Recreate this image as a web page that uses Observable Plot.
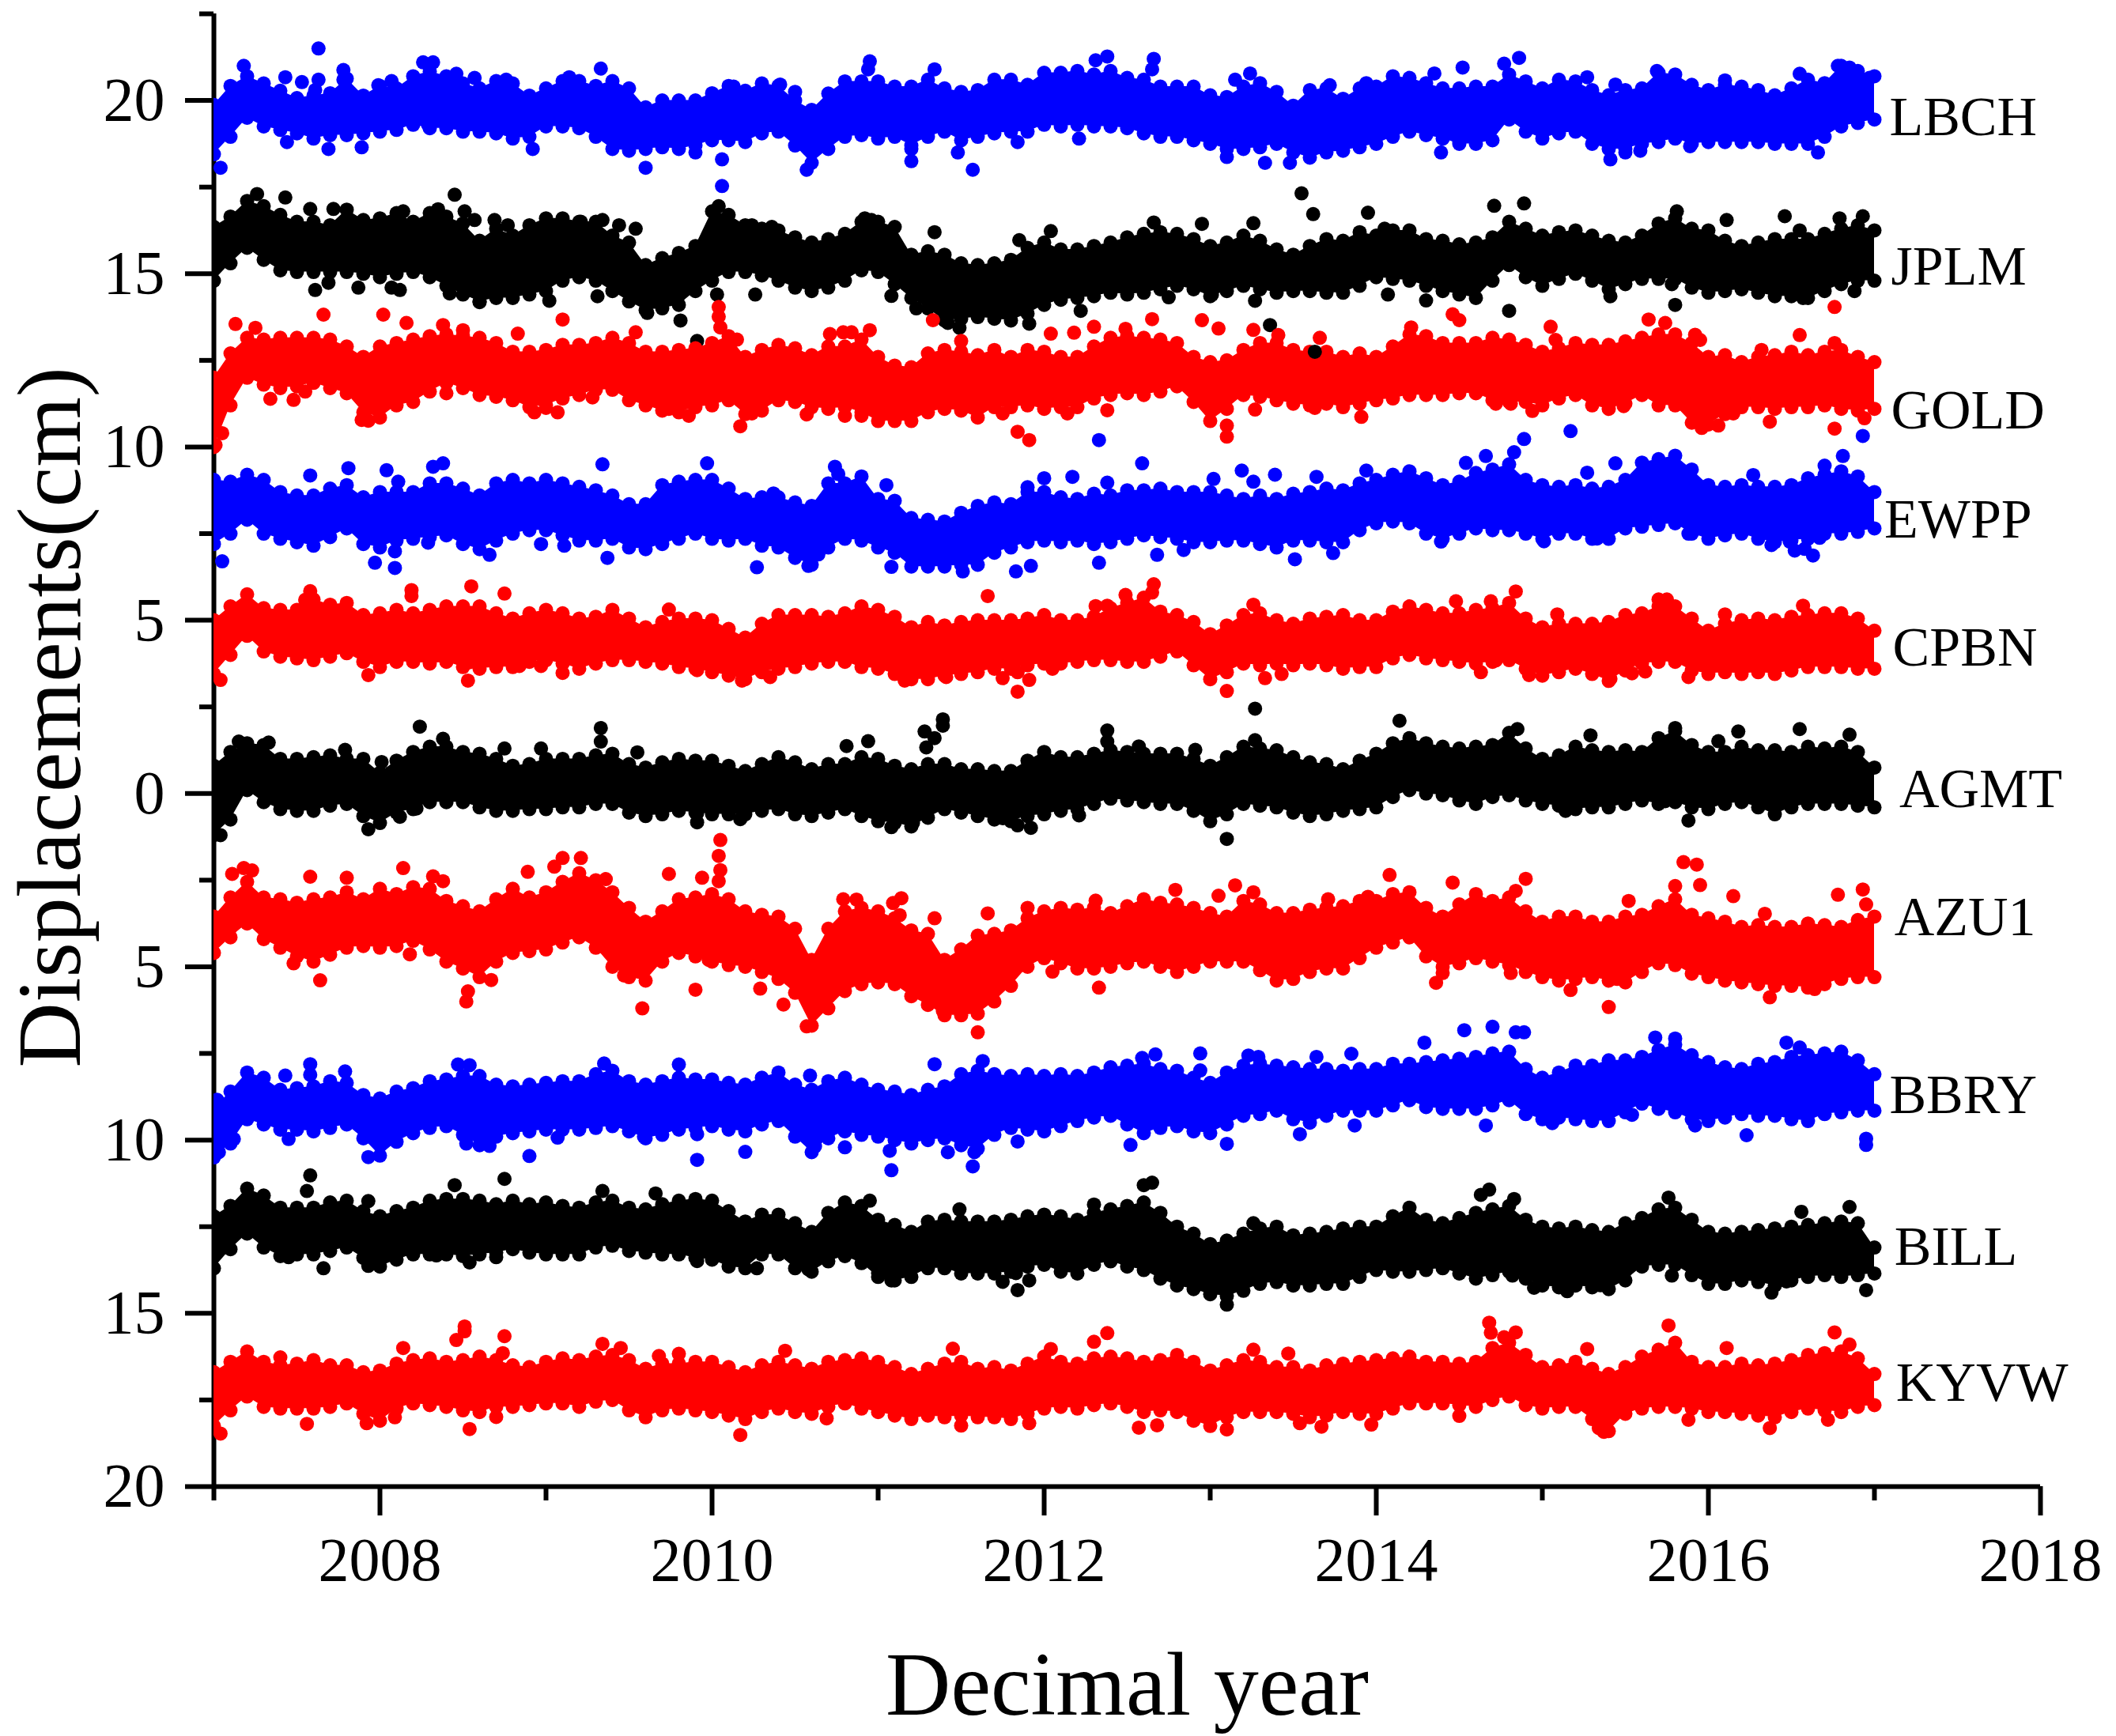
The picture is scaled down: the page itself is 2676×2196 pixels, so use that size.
<!DOCTYPE html>
<html>
<head>
<meta charset="utf-8">
<script src="https://cdn.jsdelivr.net/npm/d3@7"></script>
<script src="https://cdn.jsdelivr.net/npm/@observablehq/plot@0.6"></script>
<style>html,body{margin:0;padding:0;background:#fff}svg{display:block}</style>
</head>
<body>
<div id="chart"></div>
<script>
const years=[
2007,2007.1,2007.2,2007.3,2007.4,2007.5,2007.6,2007.7,2007.8,2007.9,
2008,2008.1,2008.2,2008.3,2008.4,2008.5,2008.6,2008.7,2008.8,2008.9,
2009,2009.1,2009.2,2009.3,2009.4,2009.5,2009.6,2009.7,2009.8,2009.9,
2010,2010.1,2010.2,2010.3,2010.4,2010.5,2010.6,2010.7,2010.8,2010.9,
2011,2011.1,2011.2,2011.3,2011.4,2011.5,2011.6,2011.7,2011.8,2011.9,
2012,2012.1,2012.2,2012.3,2012.4,2012.5,2012.6,2012.7,2012.8,2012.9,
2013,2013.1,2013.2,2013.3,2013.4,2013.5,2013.6,2013.7,2013.8,2013.9,
2014,2014.1,2014.2,2014.3,2014.4,2014.5,2014.6,2014.7,2014.8,2014.9,
2015,2015.1,2015.2,2015.3,2015.4,2015.5,2015.6,2015.7,2015.8,2015.9,
2016,2016.1,2016.2,2016.3,2016.4,2016.5,2016.6,2016.7,2016.8,2016.9,
2017];

const lbchHi=[
19.87,20.42,20.7,20.49,20.28,20.07,20.14,20.21,20.63,20.14,
20.42,20.35,20.7,20.84,20.7,20.49,20.35,20.56,20.49,20.14,
20.35,20.56,20.56,20.42,20.56,20.35,19.8,20,20,20,
20.21,20.42,20.28,20.49,20.42,20,19.73,20.2,20.55,20.55,
20.55,20.4,20.4,20.6,20.35,20.25,20.3,20.6,20.6,20.45,
20.8,20.8,20.85,20.75,20.85,20.65,20.6,20.4,20.4,20.4,
20.15,20.1,20.4,20.5,20.25,19.85,20.3,20.35,20.05,20.35,
20.4,20.7,20.65,20.5,20.35,20.35,20.4,20.4,20.75,20.55,
20.35,20.6,20.55,20.3,20.15,20.3,20.35,20.8,20.75,20.45,
20.3,20.45,20.4,20.3,20.15,20.35,20.6,20.5,21,20.85,
20.7];
const lbchLo=[
18.45,18.95,19.5,19.25,19.15,19.05,18.9,19,19,19.05,
19.1,19.15,19.3,19.2,19.2,19.1,19.1,19.05,18.9,18.95,
19.25,19.25,19.2,18.95,18.6,18.55,18.6,18.65,18.6,18.7,
18.85,18.85,18.8,19.05,19.1,18.7,18.2,18.6,18.95,19,
18.9,18.95,18.7,18.95,19.1,18.85,18.95,19.05,19.1,19.1,
19.3,19.25,19.3,19.25,19.25,19.2,19.05,18.95,18.95,18.85,
18.75,18.6,18.6,18.65,18.75,18.5,18.35,18.5,18.55,18.65,
18.75,18.95,19.1,19,18.9,18.75,18.75,18.85,19.45,19.1,
18.9,19.05,19.1,18.75,18.6,18.6,18.75,18.8,18.9,18.75,
18.8,18.8,18.8,18.8,18.75,18.75,18.75,18.95,19.25,19.35,
19.45];
const lbchOut=[[2007.63,21.5],[2007.18,21],[2007.43,20.67],[2007.53,20.53],[2007.63,20.6],[2007.61,20.3],[2007.78,20.88],[2007.78,20.6],[2007.99,20.44],[2008.07,20.56],[2008.26,21.1],[2008.32,21.1],[2008.46,20.77],[2008.57,20.65],[2008.76,20.6],[2009.14,20.67],[2009.33,20.92],[2010.13,20.4],[2010.41,20.46],[2010.5,20.25],[2007.04,18.06],[2007.69,18.6],[2007.89,18.65],[2007.44,18.8],[2008.29,19.3],[2008.92,18.6],[2009.6,18.06],[2010.57,18],[2010.06,18.3],[2010.06,17.53],[2009.9,18.5],[2010.95,21.13],[2010.94,20.9],[2011.34,20.9],[2012.31,21.16],[2012.38,21.27],[2012.66,21.2],[2012.65,20.9],[2013.15,20.6],[2013.24,20.78],[2013.72,20.44],[2013.94,20.5],[2011.2,18.25],[2011.2,18.6],[2011.57,18],[2011.48,18.5],[2011.84,18.8],[2012.21,18.9],[2013.33,18.2],[2013.48,18.2],[2013.1,18.37],[2014.86,21.23],[2014.77,21.06],[2014.35,20.78],[2014.52,20.95],[2015.27,20.67],[2015.44,20.46],[2015.69,20.85],[2016.1,20.58],[2016.55,20.77],[2016.78,21],[2016.85,20.95],[2016.97,20.65],[2014.39,18.5],[2014.5,18.8],[2015.41,18.3],[2015.5,18.5],[2015.59,18.55],[2015.89,18.68],[2016.66,18.5]];

const jplmHi=[
16.35,16.65,17.1,16.95,16.7,16.5,16.5,16.4,16.85,16.55,
16.6,16.75,16.5,16.75,16.65,16.45,15.95,16.3,16.1,16.4,
16.6,16.6,16.5,16.5,16.1,15.9,15.25,15.45,15.6,15.8,
16.8,16.7,16.4,16.3,16.25,16.05,15.9,16,16.15,16.5,
16.5,16.35,15.55,15.65,15.55,15.3,15.25,15.3,15.4,15.75,
15.9,15.7,15.7,15.8,15.9,16.05,16.15,16.2,16.15,16,
15.8,15.9,16.1,15.95,15.7,15.55,15.8,16,15.95,16.2,
16.1,16.25,16.25,16,15.95,15.85,15.9,16.05,16.5,16.3,
16.1,16.2,16.25,16.1,15.95,15.9,16.1,16.45,16.6,16.3,
16.25,15.95,15.8,15.9,16,16,16,16.15,16.3,16.4,
16.25];
const jplmLo=[
14.8,15.3,15.75,15.4,15.1,15.05,15.05,15.05,15.05,15,
14.9,15,15.05,14.9,14.65,14.4,14.2,14.3,14.3,14.4,
14.5,14.8,14.9,14.8,14.5,14.2,13.95,14,14.1,14.5,
14.8,15.05,15.05,14.95,14.8,14.6,14.5,14.6,14.8,15.1,
15.05,14.7,14.3,14,13.65,13.7,13.75,13.7,13.65,13.85,
14.1,14.25,14.3,14.35,14.45,14.4,14.45,14.55,14.65,14.55,
14.35,14.5,14.65,14.55,14.45,14.5,14.5,14.45,14.45,14.65,
14.9,14.85,14.8,14.65,14.5,14.4,14.3,14.8,15.25,14.9,
14.65,14.85,15,14.8,14.55,14.7,14.85,14.85,14.85,14.6,
14.45,14.5,14.55,14.45,14.35,14.35,14.3,14.5,14.7,14.8,
14.8];
const jplmOut=[[2007.26,17.3],[2007.43,17.2],[2007.58,16.87],[2007.72,16.87],[2007.61,14.53],[2007.69,14.74],[2008.07,14.6],[2008.12,14.53],[2007.87,14.6],[2008.14,16.8],[2008.45,17.28],[2008.35,16.86],[2008.51,16.8],[2008.57,16.55],[2008.69,16.55],[2008.77,16.4],[2008.42,14.43],[2008.6,14.18],[2009.02,14.22],[2009.21,16.5],[2009.34,16.55],[2009.31,14.35],[2009.44,16.4],[2009.54,16.3],[2009.61,13.87],[2009.81,13.65],[2009.91,13.06],[2010.03,14.4],[2010.04,16.95],[2010.26,14.4],[2010.24,16.4],[2010.36,16.35],[2010.92,16.6],[2010.96,16.55],[2011.08,14.36],[2011.23,14],[2011.42,13.58],[2011.49,13.44],[2011.34,16.2],[2012.04,16.23],[2011.85,15.97],[2011.91,13.56],[2012.22,13.93],[2012.66,16.48],[2012.95,16.44],[2012.75,14.32],[2013.01,14.39],[2013.26,16.46],[2013.27,14.22],[2013.36,13.52],[2013.55,17.32],[2013.62,16.72],[2013.95,16.76],[2014.05,16.3],[2014.07,14.4],[2014.71,16.96],[2014.89,17.03],[2014.3,14.23],[2014.8,13.93],[2015.41,14.35],[2015.78,14.7],[2015.8,14.1],[2015.81,16.8],[2016.11,16.55],[2016.46,16.66],[2016.55,16.25],[2016.93,16.66],[2016.79,16.6],[2016.88,14.5],[2016.57,14.3]];
const jplmLate=[[2013.63,12.75]];

const goldHi=[
12,12.7,13.15,13.1,13.15,13.15,13.15,13.1,12.9,12.6,
12.9,13,13.1,13.2,13.25,13.2,13.15,13,12.75,12.75,
12.8,12.95,12.95,13,13.15,13,12.75,12.75,12.8,12.85,
13,13.2,12.6,12.8,12.95,12.85,12.65,12.9,12.9,13.1,
12.6,12.35,12.3,12.7,12.8,12.75,12.65,12.8,12.6,12.8,
12.75,12.6,12.6,12.9,13.15,13.2,13.15,13.1,13,12.6,
12.45,12.5,12.8,13,13,12.8,12.75,12.75,12.6,12.7,
12.6,12.9,13.25,13.2,13,13,13,13.15,13.1,12.95,
12.75,12.85,13,12.95,12.95,13.05,13.15,13.25,13.25,13,
12.6,12.65,12.45,12.6,12.65,12.75,12.65,12.75,12.8,12.6,
12.45];
const goldLo=[
10,11.2,12,11.8,11.7,11.75,11.85,11.7,11.55,11,
10.85,11.2,11.3,11.6,11.85,11.7,11.5,11.45,11.35,11.15,
11.2,11.4,11.5,11.65,11.65,11.35,11.2,11.05,11,11.15,
11.2,11.35,10.95,11.05,11.35,11.3,11.15,11.1,11.15,11,
10.75,10.75,10.75,11,11.1,11.05,10.85,11.15,11.15,11.2,
11.1,11.15,11.15,11.4,11.5,11.55,11.5,11.6,11.75,11.3,
10.75,11.1,11.5,11.45,11.35,11.25,11.2,11.25,11.15,11.25,
11.35,11.4,11.5,11.5,11.5,11.55,11.55,11.35,11.3,11.3,
11.2,11.4,11.5,11.2,11.1,11.25,11.5,11.2,11.2,10.7,
10.65,10.95,11.15,11.15,11.1,11.15,11.15,11.2,11.1,11.05,
11.1];
const goldOut=[[2007.13,13.55],[2007.25,13.44],[2007.66,13.82],[2008.02,13.82],[2008.16,13.58],[2008.38,13.52],[2008.5,13.37],[2008.83,13.27],[2009.1,13.68],[2009.54,13.31],[2010.04,14.04],[2010.04,13.76],[2010.05,13.45],[2010.15,13.1],[2007.34,11.39],[2007.48,11.36],[2007.55,11.6],[2008.4,11.55],[2007.89,10.78],[2007.93,10.76],[2008.93,11],[2009,11.13],[2009.07,11],[2009.28,11.43],[2009.74,11.1],[2009.86,10.9],[2010.17,10.6],[2010.24,10.97],[2010.57,10.94],[2007.01,10.06],[2007.05,10.4],[2010.71,13.26],[2010.79,13.31],[2010.84,13.31],[2010.95,13.37],[2011.33,13.66],[2011.5,13.06],[2012.04,13.27],[2012.18,13.3],[2012.3,13.47],[2012.49,13.41],[2012.65,13.69],[2012.95,13.66],[2013.05,13.42],[2013.26,13.38],[2013.66,13.15],[2013.41,13.23],[2010.8,10.9],[2010.9,10.9],[2011.84,10.44],[2011.91,10.2],[2011.75,10.97],[2012.14,10.97],[2012.38,11.06],[2013.1,10.3],[2013.1,10.62],[2013.27,11.08],[2013.63,11.13],[2013.91,10.87],[2014.21,13.45],[2014.46,13.83],[2014.5,13.66],[2015.05,13.47],[2015.08,13.09],[2015.64,13.68],[2015.74,13.58],[2015.92,13.24],[2015.95,13.09],[2016.32,12.8],[2016.55,13.23],[2016.76,14.04],[2016.76,13],[2014.72,11.25],[2014.81,11.25],[2014.94,11.04],[2015.49,11.18],[2015.96,10.55],[2016.06,10.62],[2016.15,10.97],[2016.37,10.73],[2016.76,10.53],[2016.94,10.83]];

const ewppHi=[
9.05,9,9.2,9.05,8.7,8.6,8.6,8.8,8.9,8.55,
8.7,8.7,8.7,8.95,8.95,8.8,8.6,8.95,9.05,8.95,
9.05,8.95,8.85,8.75,8.6,8.35,8.35,8.9,9,9.05,
9.05,8.8,8.5,8.55,8.55,8.4,8.3,8.95,8.95,9.15,
8.5,8.45,7.95,7.9,7.85,8.1,8.3,8.4,8.35,8.7,
8.7,8.55,8.5,8.65,8.6,8.75,8.75,8.8,8.7,8.7,
8.7,8.6,8.5,8.6,8.5,8.65,8.7,8.8,8.75,8.95,
9.05,9.2,9.3,9.1,8.9,9,9.25,9.35,9.5,9.05,
8.9,8.85,8.9,8.8,8.85,9.05,9.55,9.65,9.75,9.35,
8.9,8.85,8.9,8.85,8.85,8.9,9.1,9.2,9.3,9.15,
8.7];
const ewppLo=[
7.2,7.5,7.9,7.5,7.35,7.25,7.15,7.4,7.65,7.2,
7.1,7.3,7.35,7.4,7.45,7.2,7.05,7.3,7.5,7.6,
7.6,7.45,7.3,7.3,7.35,7.1,7.05,7.2,7.35,7.5,
7.35,7.3,7.35,7.15,7.1,6.8,6.6,7.1,7.35,7.3,
7.1,6.95,6.55,6.55,6.55,6.6,6.6,6.95,7.1,7.25,
7.3,7.25,7.3,7.2,7.25,7.35,7.45,7.4,7.35,7.25,
7.25,7.3,7.3,7.2,7.1,7.3,7.3,7.25,7.25,7.6,
7.8,7.85,7.8,7.5,7.35,7.5,7.65,7.6,7.6,7.5,
7.35,7.5,7.5,7.35,7.35,7.65,7.7,7.75,7.8,7.5,
7.35,7.45,7.5,7.35,7.25,7.3,7.35,7.5,7.5,7.55,
7.65];
const ewppOut=[[2007.05,6.7],[2007.81,9.39],[2007.58,9.18],[2008.04,9.33],[2008.11,9],[2008.32,9.43],[2008.38,9.53],[2009.34,9.5],[2009.97,9.53],[2007.97,6.66],[2008.09,6.99],[2008.09,6.51],[2008.29,7.24],[2008.66,6.89],[2008.97,7.2],[2009.11,7.15],[2009.37,6.8],[2010.27,6.53],[2010.58,6.57],[2010.37,8.66],[2010.74,9.43],[2010.76,9.22],[2011.05,8.9],[2011.9,8.84],[2012,9.1],[2012.17,9.14],[2012.38,8.97],[2012.59,9.53],[2013.02,9.08],[2013.19,9.32],[2013.26,9],[2013.39,9.2],[2013.64,9.14],[2013.94,9.32],[2011.08,6.54],[2011.51,6.41],[2011.83,6.41],[2011.92,6.57],[2012.33,6.66],[2012.68,6.89],[2012.84,7.03],[2013.51,6.76],[2013.74,6.94],[2010.64,6.9],[2014.89,10.23],[2014.83,9.85],[2014.54,9.54],[2014.66,9.74],[2015.27,9.26],[2015.44,9.53],[2016.27,9.19],[2016.81,9.74],[2016.7,9.46],[2014.39,7.27],[2015.01,7.28],[2015.33,7.36],[2015.88,7.5],[2016.38,7.17],[2016.52,7.01],[2016.58,7.06],[2016.63,6.87],[2016.67,7.38],[2016.49,7.27],[2012.33,10.2],[2015.17,10.46],[2016.93,10.32]];

const cpbnHi=[
5,5.4,5.75,5.35,5.3,5.3,5.6,5.45,5.5,5.15,
5.2,5.3,5.2,5.3,5.4,5.4,5.4,5.2,5.05,5.2,
5.3,5.2,5.05,5.1,5.3,5.05,4.8,4.95,5.05,5.05,
5,4.75,4.5,4.9,5.15,5.15,5.15,5.1,5.2,5.4,
5.3,5.1,4.8,4.95,4.85,4.95,5,5,5,5.05,
5.15,5,5,5.1,5.35,5.5,5.65,5.25,5.15,4.95,
4.6,4.85,5.15,5.2,5,4.9,5.05,5.1,5.15,5,
5,5.25,5.4,5.3,5.2,5.2,5.3,5.35,5.5,5.05,
4.8,4.9,4.9,4.9,4.95,5.15,5.2,5.4,5.4,5.05,
4.7,4.9,5,5.05,5,5.1,5.15,5.2,5.2,5.05,
4.7];
const cpbnLo=[
3.45,4,4.55,4.1,3.95,3.9,3.85,3.95,4.05,3.8,
3.65,3.8,3.8,3.75,3.8,3.65,3.6,3.65,3.65,3.8,
3.85,3.75,3.6,3.75,3.85,3.85,3.8,3.75,3.65,3.6,
3.5,3.4,3.3,3.5,3.6,3.65,3.75,3.8,3.8,3.65,
3.6,3.45,3.3,3.3,3.4,3.45,3.5,3.6,3.6,3.7,
3.75,3.75,3.8,3.85,3.85,3.8,3.8,3.95,4.1,3.7,
3.3,3.5,3.75,3.7,3.75,3.7,3.75,3.7,3.6,3.65,
3.65,3.9,4,3.9,3.85,3.8,3.75,3.8,3.85,3.6,
3.4,3.5,3.6,3.45,3.25,3.55,3.75,3.8,3.8,3.55,
3.45,3.5,3.45,3.5,3.45,3.55,3.65,3.65,3.65,3.6,
3.6];
const cpbnOut=[[2007.04,3.28],[2007.58,5.84],[2007.55,5.59],[2008.19,5.87],[2008.19,5.7],[2008.55,5.98],[2008.75,5.77],[2009.74,5.31],[2007.93,3.42],[2008.53,3.26],[2008.54,3.79],[2008.84,3.68],[2008.97,3.68],[2009.1,3.48],[2009.91,3.56],[2010.18,3.26],[2010.35,3.36],[2011.66,5.7],[2012.31,5.41],[2012.38,5.42],[2012.49,5.73],[2012.66,6.04],[2012.65,5.8],[2013.26,5.45],[2010.9,3.75],[2011.16,3.26],[2011.41,3.36],[2011.84,2.94],[2011.84,3.5],[2011.91,3.28],[2011.75,3.33],[2012.05,3.6],[2013.1,2.96],[2013.33,3.33],[2013.43,3.45],[2014.84,5.83],[2014.69,5.55],[2014.48,5.55],[2015.09,5.17],[2015.7,5.6],[2015.75,5.6],[2016.1,5.17],[2016.57,5.42],[2014.63,3.5],[2014.72,3.84],[2014.92,3.42],[2015.41,3.31],[2015.54,3.47],[2015.62,3.52],[2015.88,3.36]];

const agmtHi=[
0.8,1.2,1.45,1.4,1,1,1.05,1.1,1,1,
0.6,0.95,1.2,1.35,1.35,1.2,1.15,1,0.8,0.85,
1,1,1,1.1,1.15,0.85,0.75,0.9,1,0.95,
0.95,0.8,0.65,0.85,1.05,0.9,0.7,0.85,0.85,1.05,
1,0.8,0.7,0.85,0.85,0.7,0.7,0.65,0.65,0.95,
1.2,1.05,1.05,1.15,1.25,1.2,1.15,1.15,1.15,1,
0.8,1.05,1.35,1.3,1.25,1.05,0.9,0.85,0.7,0.95,
1.15,1.45,1.6,1.45,1.35,1.3,1.35,1.4,1.75,1.3,
1,1.1,1.35,1.25,1.2,1.25,1.2,1.6,1.8,1.4,
1.2,1.2,1.35,1.25,1.25,1.2,1.35,1.3,1.35,1.2,
0.75];
const agmtLo=[
-1.2,-0.75,0.1,-0.25,-0.45,-0.5,-0.5,-0.35,-0.3,-0.65,
-0.85,-0.55,-0.45,-0.25,-0.25,-0.25,-0.4,-0.5,-0.5,-0.45,
-0.45,-0.4,-0.4,-0.3,-0.3,-0.55,-0.65,-0.6,-0.5,-0.55,
-0.6,-0.6,-0.6,-0.5,-0.45,-0.6,-0.65,-0.55,-0.45,-0.65,
-0.8,-0.85,-0.95,-0.7,-0.45,-0.55,-0.65,-0.75,-0.8,-0.65,
-0.6,-0.5,-0.45,-0.3,-0.15,-0.2,-0.25,-0.3,-0.3,-0.5,
-0.8,-0.6,-0.3,-0.35,-0.4,-0.55,-0.65,-0.6,-0.5,-0.45,
-0.4,-0.1,0.1,0,-0.05,-0.2,-0.3,-0.1,-0.05,-0.2,
-0.3,-0.35,-0.45,-0.4,-0.4,-0.3,-0.2,-0.3,-0.25,-0.4,
-0.45,-0.3,-0.25,-0.4,-0.6,-0.4,-0.3,-0.3,-0.3,-0.35,
-0.4];
const agmtOut=[[2008.24,1.93],[2009.33,1.89],[2009.33,1.5],[2007.15,1.5],[2007.33,1.47],[2007.79,1.26],[2008.75,1.3],[2008.97,1.3],[2009.55,1.19],[2008.38,1.58],[2008.01,0.91],[2011.39,2.14],[2011.39,1.96],[2011.28,1.79],[2011.34,1.6],[2011.29,1.33],[2010.94,1.51],[2010.81,1.37],[2012.38,1.82],[2012.38,1.5],[2012.57,1.36],[2012.91,1.26],[2013.27,2.45],[2014.14,2.1],[2013.27,1.54],[2016.55,1.86],[2015.29,1.68],[2016.18,1.79],[2016.85,1.7],[2016.06,1.51],[2015.8,1.89],[2014.85,1.86],[2007.93,-1.03],[2008.12,-0.67],[2008.22,-0.43],[2009.91,-0.83],[2009.91,-0.57],[2010.17,-0.74],[2007.04,-1.2],[2013.1,-1.31],[2011.84,-0.92],[2011.92,-0.99],[2011.75,-0.71],[2012.21,-0.63],[2011.08,-0.97],[2011.21,-0.85],[2015.88,-0.78],[2015.74,-0.22],[2015.14,-0.5]];

const azu1Hi=[
-3.55,-3,-2.55,-3,-3.05,-3.15,-3.05,-3,-2.85,-3.05,
-2.75,-2.9,-2.7,-2.75,-3.1,-3.25,-3.4,-3.05,-2.75,-3,
-2.85,-2.55,-2.3,-2.5,-2.85,-3.3,-3.7,-3.4,-3.05,-3,
-2.9,-3.05,-3.4,-3.5,-3.55,-3.9,-4.8,-3.9,-3.4,-3.3,
-3.4,-3.6,-3.95,-4.05,-4.8,-4.5,-4.1,-4.05,-3.95,-3.6,
-3.4,-3.3,-3.35,-3.3,-3.45,-3.25,-3.05,-3.15,-3.2,-3.3,
-3.45,-3.55,-3.1,-3.2,-3.45,-3.45,-3.35,-3.3,-3.25,-3.1,
-3.1,-2.9,-2.85,-3.3,-3.55,-3.2,-2.9,-3.1,-3,-3.4,
-3.7,-3.55,-3.55,-3.7,-3.7,-3.55,-3.5,-3.25,-3.05,-3.5,
-3.6,-3.7,-3.85,-3.8,-3.85,-3.85,-3.75,-3.8,-3.85,-3.65,
-3.55];
const azu1Lo=[
-4.6,-4.15,-3.75,-4.2,-4.45,-4.7,-4.85,-4.65,-4.45,-4.4,
-4.45,-4.4,-4.25,-4.5,-4.85,-5.05,-5.3,-4.85,-4.6,-4.55,
-4.5,-4.3,-4.15,-4.45,-5,-5.3,-5.4,-4.85,-4.6,-4.7,
-4.85,-4.95,-5,-5.15,-5.35,-5.75,-6.7,-6.2,-5.7,-5.5,
-5.45,-5.5,-5.85,-6.1,-6.4,-6.4,-6.35,-6,-5.55,-5,
-4.75,-4.9,-5.05,-5.05,-5,-4.9,-4.85,-5,-5.15,-5,
-4.85,-4.85,-4.85,-5.1,-5.4,-5.35,-5.15,-5.05,-5.05,-4.75,
-4.45,-4.3,-4.15,-4.7,-5,-4.9,-4.75,-4.85,-4.95,-5.15,
-5.3,-5.4,-5.35,-5.3,-5.4,-5.45,-5.15,-4.9,-4.95,-5.2,
-5.3,-5.4,-5.45,-5.5,-5.55,-5.55,-5.6,-5.5,-5.35,-5.3,
-5.3];
const azu1Out=[[2007.11,-2.32],[2007.18,-2.15],[2007.23,-2.22],[2007.58,-2.4],[2007.8,-2.43],[2008.14,-2.15],[2008.32,-2.39],[2008.38,-2.53],[2008.89,-2.26],[2009.1,-1.86],[2009.21,-1.86],[2009.05,-2.11],[2009.36,-2.47],[2009.74,-2.32],[2009.94,-2.43],[2010.05,-1.34],[2010.04,-1.8],[2010.05,-2.21],[2010.04,-2.53],[2007.64,-5.39],[2007.48,-4.9],[2008.18,-4.64],[2008.52,-6],[2008.53,-5.71],[2008.67,-5.38],[2009.58,-6.2],[2009.9,-5.66],[2009.98,-4.8],[2010.29,-5.63],[2010.43,-6.09],[2010.57,-6.72],[2009.47,-5.25],[2011.6,-6.89],[2011.39,-6.27],[2012.33,-5.6],[2012.05,-5.14],[2010.79,-3.05],[2010.87,-3.06],[2011.14,-3.02],[2011.09,-3.16],[2011.13,-3.51],[2011.66,-3.46],[2011.34,-3.6],[2011.9,-3.3],[2012.31,-3.09],[2012.79,-2.78],[2013.15,-2.65],[2013.26,-2.85],[2013.05,-2.95],[2013.71,-3.05],[2013.95,-2.98],[2014.08,-2.35],[2013.67,-4.83],[2014.46,-2.57],[2014.9,-2.46],[2014.84,-2.81],[2014.36,-5.46],[2014.4,-5.18],[2014.81,-5.18],[2015.17,-5.67],[2015.4,-6.16],[2015.45,-5.35],[2015.85,-1.98],[2015.93,-2.05],[2015.95,-2.64],[2015.8,-2.67],[2015.52,-3.1],[2016.15,-2.96],[2016.93,-2.77],[2016.78,-2.92],[2016.95,-3.2],[2016.34,-3.47],[2016.37,-5.88],[2016.64,-5.64]];

const bbryHi=[
-9.1,-8.6,-8.05,-8.2,-8.55,-8.5,-8.45,-8.3,-8.35,-8.7,
-8.8,-8.6,-8.5,-8.3,-8.25,-8.15,-8.15,-8.4,-8.45,-8.4,
-8.35,-8.3,-8.3,-8.1,-8,-8.3,-8.4,-8.3,-8.2,-8.25,
-8.25,-8.35,-8.4,-8.2,-8.05,-8.4,-8.55,-8.3,-8.2,-8.4,
-8.55,-8.6,-8.7,-8.55,-8.45,-8.1,-8,-8.1,-8.15,-8.1,
-8.15,-8.1,-8.15,-8.05,-7.9,-7.85,-7.8,-7.95,-8,-8.2,
-8.35,-8.05,-7.85,-7.8,-7.85,-7.9,-7.95,-7.95,-8,-7.95,
-7.95,-7.8,-7.8,-7.75,-7.7,-7.65,-7.6,-7.5,-7.45,-7.95,
-8.2,-8.05,-7.85,-7.85,-7.7,-7.7,-7.6,-7.4,-7.25,-7.55,
-7.75,-7.9,-7.95,-7.8,-7.75,-7.6,-7.55,-7.5,-7.45,-7.7,
-8.1];
const bbryLo=[
-10.5,-10.1,-9.4,-9.55,-9.7,-9.7,-9.75,-9.65,-9.55,-9.95,
-10.45,-10.05,-9.8,-9.65,-9.6,-9.85,-10.15,-9.9,-9.8,-9.75,
-9.7,-9.7,-9.7,-9.65,-9.6,-9.75,-9.95,-9.85,-9.7,-9.65,
-9.6,-9.7,-9.75,-9.55,-9.45,-9.9,-10.35,-9.95,-9.75,-9.85,
-9.9,-10,-10.1,-10,-9.95,-10.15,-10.25,-9.85,-9.65,-9.7,
-9.75,-9.6,-9.45,-9.35,-9.3,-9.55,-9.8,-9.65,-9.6,-9.75,
-9.8,-9.55,-9.3,-9.25,-9.15,-9.4,-9.5,-9.3,-9.15,-9.15,
-9.15,-9,-8.85,-9.05,-9.1,-9.1,-9.1,-9,-8.85,-9.25,
-9.4,-9.35,-9.4,-9.45,-9.45,-9.2,-8.95,-9.1,-9.2,-9.4,
-9.45,-9.35,-9.25,-9.3,-9.3,-9.4,-9.45,-9.25,-9.2,-9.15,
-9.15];
const bbryOut=[[2007.58,-7.81],[2007.58,-8.12],[2007.43,-8.14],[2007.79,-8.02],[2008.47,-7.82],[2008.54,-7.84],[2009.35,-7.79],[2009.8,-7.82],[2010.59,-8.14],[2007.02,-8.84],[2007.93,-10.49],[2008.9,-10.46],[2008.52,-10.1],[2009.07,-9.93],[2009.91,-10.57],[2009.91,-9.83],[2010.2,-10.34],[2009.59,-9.9],[2008.66,-10.17],[2007.45,-9.97],[2007.12,-9.97],[2007.03,-10.35],[2011.34,-7.81],[2011.63,-7.72],[2011.08,-10.87],[2011.07,-10.31],[2011.57,-10.76],[2011.58,-10.35],[2011.42,-10.35],[2010.8,-10.21],[2011.84,-10.04],[2012.52,-10.14],[2012.59,-7.63],[2012.67,-7.53],[2012.94,-7.5],[2012.94,-7.99],[2013.1,-10.11],[2013.23,-7.56],[2013.29,-7.6],[2013.54,-9.83],[2013.85,-7.51],[2013.64,-7.6],[2013.87,-9.58],[2010.62,-10.18],[2014.53,-6.83],[2014.7,-6.73],[2014.89,-6.89],[2014.29,-7.19],[2014.84,-6.89],[2015.68,-7.04],[2015.8,-7.07],[2016.47,-7.19],[2016.55,-7.33],[2014.66,-9.58],[2016.23,-9.86],[2016.95,-9.96],[2016.95,-10.14],[2015.54,-9.27],[2015.92,-9.58],[2015.06,-9.51]];

const billHi=[
-12.2,-11.9,-11.4,-11.6,-11.95,-11.95,-11.95,-11.8,-11.75,-12.05,
-12.2,-12.05,-11.95,-11.75,-11.7,-11.7,-11.75,-11.85,-11.75,-11.85,
-11.8,-11.9,-11.95,-11.8,-11.75,-11.95,-12,-11.85,-11.75,-11.7,
-11.75,-12.05,-12.35,-12.15,-12.15,-12.4,-12.65,-12.1,-11.8,-11.9,
-12.3,-12.45,-12.65,-12.35,-12.3,-12.35,-12.35,-12.35,-12.3,-12.2,
-12.15,-12.2,-12.3,-12.1,-12,-11.9,-11.8,-12.1,-12.5,-12.7,
-13,-12.9,-12.7,-12.55,-12.5,-12.75,-12.7,-12.65,-12.55,-12.5,
-12.5,-12.2,-11.95,-12.3,-12.4,-12.25,-12.1,-12,-11.9,-12.3,
-12.5,-12.55,-12.5,-12.6,-12.65,-12.4,-12.25,-12,-11.95,-12.3,
-12.65,-12.7,-12.65,-12.6,-12.55,-12.5,-12.45,-12.4,-12.35,-12.4,
-13.1];
const billLo=[
-13.7,-13.15,-12.7,-13.1,-13.35,-13.3,-13.3,-13.2,-13.1,-13.4,
-13.65,-13.45,-13.3,-13.3,-13.3,-13.35,-13.3,-13.25,-13.15,-13.25,
-13.3,-13.3,-13.3,-13.1,-13.05,-13.2,-13.25,-13.3,-13.3,-13.4,
-13.45,-13.65,-13.7,-13.3,-13.3,-13.7,-13.8,-13.5,-13.35,-13.55,
-13.95,-14.05,-13.95,-13.7,-13.7,-13.85,-13.85,-13.85,-13.8,-13.65,
-13.6,-13.8,-13.85,-13.6,-13.5,-13.65,-13.75,-14,-14.2,-14.3,
-14.45,-14.5,-14.35,-14.15,-14.1,-14.2,-14.2,-14.15,-14.15,-13.95,
-13.75,-13.8,-13.8,-13.75,-13.7,-13.85,-14,-13.9,-13.8,-14,
-14.2,-14.25,-14.2,-14.25,-14.3,-14.05,-13.65,-13.6,-13.6,-13.9,
-14.15,-14.15,-14.05,-14.1,-14.2,-14.05,-13.95,-13.9,-13.95,-13.9,
-13.85];
const billOut=[[2007.58,-11.02],[2007.56,-11.47],[2007.93,-11.76],[2008.45,-11.3],[2008.75,-11.12],[2009.34,-11.47],[2009.66,-11.54],[2007.45,-13.38],[2007.66,-13.7],[2007.93,-13.63],[2008.34,-13.33],[2008.54,-13.53],[2008.7,-13.38],[2009.91,-13.49],[2010.27,-13.7],[2010.58,-13.73],[2010.95,-11.75],[2012.65,-11.23],[2012.6,-11.3],[2012.3,-11.86],[2011.49,-12],[2013.26,-12.4],[2011.84,-14.33],[2011.91,-14.05],[2011.83,-13.84],[2011.75,-14.09],[2013.1,-14.75],[2011,-13.84],[2011.08,-14.05],[2014.68,-11.43],[2014.63,-11.58],[2014.83,-11.7],[2015.76,-11.66],[2016.85,-11.93],[2016.56,-12.07],[2014.82,-13.91],[2014.95,-14.26],[2015.15,-14.36],[2015.35,-14.19],[2015.78,-13.91],[2016.38,-14.4],[2016.95,-14.33],[2016.47,-14.08]];

const kyvwHi=[
-16.7,-16.4,-16.1,-16.4,-16.5,-16.45,-16.35,-16.5,-16.5,-16.7,
-16.65,-16.45,-16.35,-16.3,-16.4,-16.35,-16.25,-16.35,-16.5,-16.55,
-16.4,-16.3,-16.35,-16.25,-16.2,-16.35,-16.6,-16.45,-16.45,-16.4,
-16.4,-16.55,-16.7,-16.5,-16.4,-16.5,-16.6,-16.4,-16.35,-16.3,
-16.4,-16.55,-16.75,-16.6,-16.45,-16.4,-16.6,-16.55,-16.65,-16.45,
-16.25,-16.4,-16.45,-16.3,-16.25,-16.3,-16.4,-16.35,-16.2,-16.4,
-16.65,-16.5,-16.35,-16.4,-16.55,-16.55,-16.65,-16.5,-16.45,-16.4,
-16.35,-16.3,-16.25,-16.4,-16.4,-16.45,-16.4,-16,-15.85,-16.2,
-16.55,-16.5,-16.4,-16.6,-16.75,-16.55,-16.25,-16.05,-15.85,-16.4,
-16.55,-16.55,-16.45,-16.5,-16.45,-16.35,-16.2,-16.15,-16.1,-16.3,
-16.75];
const kyvwLo=[
-18.25,-17.8,-17.4,-17.7,-17.75,-17.75,-17.75,-17.7,-17.6,-17.9,
-18.1,-17.75,-17.6,-17.65,-17.7,-17.8,-17.85,-17.7,-17.7,-17.65,
-17.6,-17.6,-17.7,-17.55,-17.5,-17.8,-18,-17.8,-17.75,-17.8,
-17.85,-17.95,-18.05,-17.85,-17.75,-17.85,-17.9,-17.7,-17.6,-17.75,
-17.85,-17.95,-18.05,-17.95,-18,-17.95,-18,-18,-18.05,-17.9,
-17.75,-17.7,-17.75,-17.65,-17.6,-17.7,-17.85,-17.8,-17.85,-18.1,
-18.25,-18,-17.85,-17.85,-17.85,-17.9,-18,-17.95,-17.85,-17.9,
-17.9,-17.75,-17.6,-17.6,-17.6,-17.65,-17.7,-17.5,-17.4,-17.65,
-17.75,-17.7,-17.7,-18.05,-18.4,-17.9,-17.75,-17.7,-17.7,-17.75,
-17.85,-17.85,-17.9,-17.95,-18,-17.85,-17.75,-17.8,-17.85,-17.7,
-17.65];
const kyvwOut=[[2008.51,-15.38],[2008.51,-15.52],[2008.46,-15.77],[2008.75,-15.66],[2008.14,-16],[2009.34,-15.88],[2009.45,-16],[2008.74,-16.15],[2009.68,-16.23],[2009.8,-16.17],[2010.44,-16.08],[2007.4,-16.27],[2007.04,-18.47],[2007.56,-18.19],[2010.17,-18.51],[2008.54,-18.34],[2008.7,-17.99],[2007.92,-18.17],[2008.09,-18],[2012.38,-15.57],[2012.3,-15.82],[2011.45,-16.02],[2012.04,-16.03],[2013.47,-16.16],[2013.26,-16.05],[2012.57,-18.3],[2012.68,-18.23],[2011.5,-18.24],[2011.91,-18.17],[2013.1,-18.35],[2013.54,-18.17],[2013.67,-18.27],[2013.97,-18.21],[2010.69,-18.03],[2014.68,-15.27],[2014.69,-15.56],[2015.76,-15.35],[2014.77,-15.69],[2014.84,-15.55],[2016.76,-15.55],[2016.85,-15.9],[2016.11,-16],[2015.27,-16.03],[2015.37,-18.42],[2015.34,-18.31],[2016.37,-18.31],[2014.5,-17.96],[2015.88,-18.07],[2016.72,-18.07]];

const stationNames=["LBCH","JPLM","GOLD","EWPP","CPBN","AGMT","AZU1","BBRY","BILL","KYVW"];
const stationColors=["#0000ff","#000000","#ff0000","#0000ff","#ff0000","#000000","#ff0000","#0000ff","#000000","#ff0000"];
const stationLabelX=[2017.09,2017.1,2017.1,2017.06,2017.11,2017.15,2017.12,2017.09,2017.12,2017.13];
const stationLabelY=[19.5,15.2,11.05,7.9,4.2,0.12,-3.57,-8.7,-13.09,-17.02];
const allHi=[lbchHi,jplmHi,goldHi,ewppHi,cpbnHi,agmtHi,azu1Hi,bbryHi,billHi,kyvwHi];
const allLo=[lbchLo,jplmLo,goldLo,ewppLo,cpbnLo,agmtLo,azu1Lo,bbryLo,billLo,kyvwLo];
const allOut=[lbchOut,jplmOut,goldOut,ewppOut,cpbnOut,agmtOut,azu1Out,bbryOut,billOut,kyvwOut];

const xMajor=[2008,2010,2012,2014,2016,2018];
const xMinor=[2007,2009,2011,2013,2015,2017];
const yMajor=[20,15,10,5,0,-5,-10,-15,-20];
const yMinor=[22.5,17.5,12.5,7.5,2.5,-2.5,-7.5,-12.5,-17.5];

const serif="Liberation Serif";
const dotR=9;
const marks=[
  Plot.ruleX([2007],{y1:-20,y2:22.5,strokeWidth:6,stroke:"#000"}),
  Plot.ruleY([-20],{x1:2007,x2:2018,strokeWidth:6,stroke:"#000"}),
  Plot.axisY({ticks:yMajor,tickSize:36,tickPadding:26,strokeWidth:6,fontSize:78,fontFamily:serif,fill:"#000",stroke:"#000",tickFormat:d=>String(Math.abs(d)),label:null}),
  Plot.axisY({ticks:yMinor,tickSize:18,strokeWidth:6,stroke:"#000",tickFormat:()=>"",label:null}),
  Plot.axisX({ticks:xMajor,tickSize:37,tickPadding:26,strokeWidth:6,fontSize:78,fontFamily:serif,fill:"#000",stroke:"#000",tickFormat:d=>String(d),label:null}),
  Plot.axisX({ticks:xMinor,tickSize:18,strokeWidth:6,stroke:"#000",tickFormat:()=>"",label:null})
];
stationNames.forEach((name,i)=>{
  const c=stationColors[i], hi=allHi[i], lo=allLo[i], out=allOut[i];
  marks.push(Plot.areaY(years,{x:d=>d,y1:(d,j)=>lo[j],y2:(d,j)=>hi[j],fill:c,clip:true}));
  marks.push(Plot.dot(years,{x:d=>d,y:(d,j)=>hi[j],r:dotR,fill:c,clip:true}));
  marks.push(Plot.dot(years,{x:d=>d,y:(d,j)=>lo[j],r:dotR,fill:c,clip:true}));
  marks.push(Plot.dot(out,{x:d=>d[0],y:d=>d[1],r:dotR,fill:c,clip:true}));
});
marks.push(Plot.dot(jplmLate,{x:d=>d[0],y:d=>d[1],r:dotR,fill:"#000",clip:true}));
marks.push(Plot.text(stationNames,{x:(d,i)=>stationLabelX[i],y:(d,i)=>stationLabelY[i],text:d=>d,textAnchor:"start",fontSize:70,fontFamily:serif,fill:"#000"}));
marks.push(Plot.text(["Decimal year"],{x:[2012.5],y:[-25.74],text:d=>d,fontSize:114,fontFamily:serif,fill:"#000"}));
marks.push(Plot.text(["Displacements(cm)"],{x:[2006.02],y:[2.2],text:d=>d,rotate:-90,fontSize:114,fontFamily:serif,fill:"#000"}));

const chart=Plot.plot({
  width:2676,height:2196,
  marginLeft:270,marginRight:96,marginTop:17,marginBottom:316,
  style:{background:"#fff",overflow:"visible"},
  x:{domain:[2007,2018]},
  y:{domain:[-20,22.5]},
  marks
});
document.getElementById("chart").appendChild(chart);
</script>
</body>
</html>
